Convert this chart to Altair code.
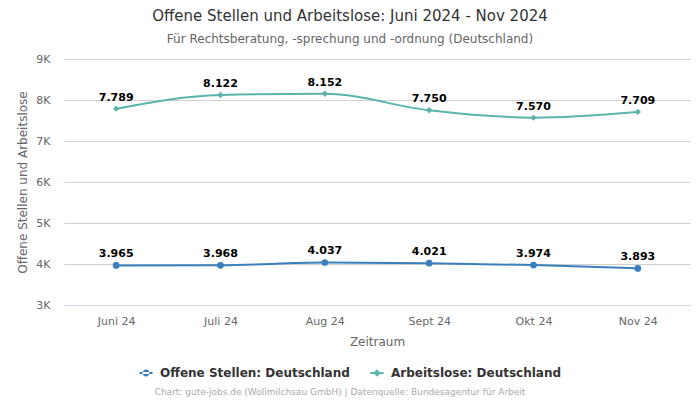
import altair as alt
import pandas as pd

months = ["Juni 24", "Juli 24", "Aug 24", "Sept 24", "Okt 24", "Nov 24"]
offene = [3965, 3968, 4037, 4021, 3974, 3893]
arbeitslose = [7789, 8122, 8152, 7750, 7570, 7709]
series = ["Offene Stellen: Deutschland", "Arbeitslose: Deutschland"]
colors = ["#3a7fbb", "#5ab4ac"]
y_ticks = [3000, 4000, 5000, 6000, 7000, 8000, 9000]

title = "Offene Stellen und Arbeitslose: Juni 2024 - Nov 2024"
subtitle = "Für Rechtsberatung, -sprechung und -ordnung (Deutschland)"
footer = "Chart: gute-jobs.de (Wollmilchsau GmbH) | Datenquelle: Bundesagentur für Arbeit"

rows = []
for s, vals in zip(series, [offene, arbeitslose]):
    for m, v in zip(months, vals):
        rows.append({"Monat": m, "Serie": s, "Wert": v,
                     "Label": f"{v:,}".replace(",", ".")})
df = pd.DataFrame(rows)

W, H = 626, 246

x_enc = alt.X("Monat:N", sort=months,
              scale=alt.Scale(type="point", padding=0.5),
              axis=alt.Axis(title="Zeitraum", labelAngle=0, labelColor="#666",
                            labelFontSize=11, titleColor="#666", titleFontSize=12,
                            titleFontWeight="normal", ticks=False, domain=True,
                            domainColor="#ccd6eb", labelPadding=10, titlePadding=10))
y_enc = alt.Y("Wert:Q",
              scale=alt.Scale(domain=[3000, 9000], nice=False, zero=False),
              axis=alt.Axis(values=y_ticks, labelExpr="datum.value / 1000 + 'K'",
                            title="Offene Stellen und Arbeitslose", labelColor="#666",
                            labelFontSize=11, titleColor="#666", titleFontSize=12,
                            titleFontWeight="normal", gridColor="#d0d0d0",
                            domain=False, ticks=False, labelPadding=14, titlePadding=6))

legend_shapes = [
    "M-1.3,-0.2H1.3V0.2H-1.3ZM-0.7,0A0.7,0.7 0 1,0 0.7,0A0.7,0.7 0 1,0 -0.7,0Z",
    "M-1.3,-0.2H1.3V0.2H-1.3ZM0,-0.75L0.7,0L0,0.75L-0.7,0Z",
]
leg = alt.Legend(title=None, orient="none", direction="horizontal",
                 legendX=76, legendY=308, labelFontSize=12,
                 labelFontWeight="bold", labelColor="#333", labelLimit=400,
                 labelOffset=8,
                 symbolOpacity=1, symbolSize=100, symbolType="circle",
                 symbolStrokeWidth=0, columnPadding=20)
color_enc = alt.Color("Serie:N", scale=alt.Scale(domain=series, range=colors), legend=leg)

base = alt.Chart(df)

lines = base.mark_line(interpolate="monotone", strokeWidth=2).encode(
    x=x_enc, y=y_enc, color=color_enc)

points_a = base.transform_filter(alt.datum.Serie == series[0]).mark_point(
    filled=True, opacity=1, size=45, shape="circle").encode(
    x=x_enc, y=y_enc, color=color_enc)
points_b = base.transform_filter(alt.datum.Serie == series[1]).mark_point(
    filled=True, opacity=1, size=40, shape="diamond").encode(
    x=x_enc, y=y_enc, color=color_enc)

labels = base.mark_text(dy=-11, fontWeight="bold", fontSize=11, color="#000").encode(
    x=x_enc, y=y_enc, text="Label:N")

legend_layer = base.mark_point(filled=True, opacity=0).encode(
    x=x_enc, y=y_enc, color=color_enc,
    shape=alt.Shape("Serie:N", scale=alt.Scale(domain=series, range=legend_shapes), legend=leg),
)

foot = alt.Chart(pd.DataFrame({"t": [footer]})).mark_text(
    fontSize=9, color="#aaa").encode(text="t:N", x=alt.value(276), y=alt.value(333))

chart = alt.layer(lines, points_a, points_b, labels, legend_layer, foot).properties(
    width=W, height=H,
    autosize=alt.AutoSizeParams(type="none"),
    padding={"left": 56, "top": 51, "right": 2, "bottom": 95},
    title=alt.TitleParams(text=title, subtitle=subtitle, anchor="middle", dx=-27,
                          fontSize=15, fontWeight="normal", color="#333",
                          subtitleFontSize=12, subtitleColor="#666", subtitlePadding=10,
                          offset=8),
).configure(font="DejaVu Sans").configure_view(stroke=None)

chart.save("out.html", embed_options={"renderer": "svg", "actions": False})
